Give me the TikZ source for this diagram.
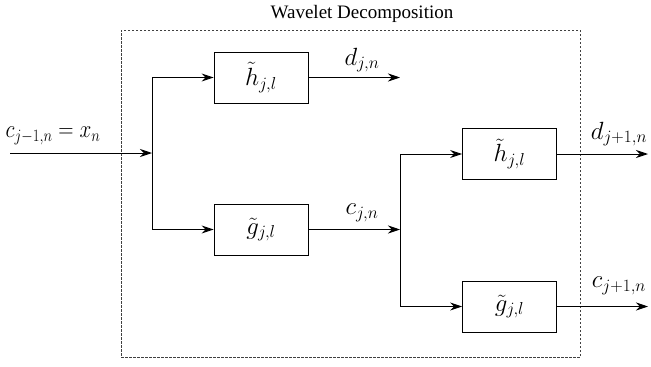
\documentclass[tikz,border=0pt]{standalone}
\usepackage{fontspec}
\setmainfont{Liberation Serif}
\usetikzlibrary{arrows.meta}
\begin{document}
\begin{tikzpicture}[x=1pt,y=-1pt,
  >={Stealth[length=12pt,width=8pt]},
  line width=0.9pt,
  blk/.style={draw, line width=0.8pt, minimum width=94pt, minimum height=51pt, inner sep=0pt, font=\fontsize{25}{30}\selectfont},
  lbl/.style={font=\fontsize{24}{28}\selectfont, inner sep=0pt},
  frame/.style={draw=black!75, dash pattern=on 2.5pt off 1.5pt, line width=0.8pt, minimum width=459pt, minimum height=327pt, inner sep=0pt}]
\useasboundingbox (0,0) rectangle (651,367);
\node[frame] (fr) at (350.5,193.5) {};
\node[font=\fontsize{19}{23}\selectfont, inner sep=0pt] (title) at (362,14) {Wavelet Decomposition};
\node[blk] (h1) at (261,77.5) {$\tilde{h}_{j,l}$};
\node[blk] (g1) at (261,229.5) {$\tilde{g}_{j,l}$};
\node[blk] (h2) at (509.5,154) {$\tilde{h}_{j,l}$};
\node[blk] (g2) at (509.5,306.5) {$\tilde{g}_{j,l}$};
\coordinate (in) at (10,153);
\coordinate (s1) at (152,153);
\coordinate (d1) at (400,77.5);
\coordinate (s2) at (400,229.5);
\coordinate (o1) at (648,154);
\coordinate (o2) at (648,306.5);
\draw[->] (in) -- (s1);
\draw (s1 |- h1.west) -- (s1 |- g1.west);
\draw[->] (s1 |- h1.west) -- (h1.west);
\draw[->] (s1 |- g1.west) -- (g1.west);
\draw[->] (h1.east) -- (d1);
\draw[->] (g1.east) -- (s2);
\draw (s2 |- h2.west) -- (s2 |- g2.west);
\draw[->] (s2 |- h2.west) -- (h2.west);
\draw[->] (s2 |- g2.west) -- (g2.west);
\draw[->] (h2.east) -- (o1);
\draw[->] (g2.east) -- (o2);
\node[lbl, xscale=0.85] (lin) at (53,136) {$c_{j-1,n}=x_n$};
\node[lbl] (ld1) at (362,60) {$d_{j,n}$};
\node[lbl] (lc1) at (362,213) {$c_{j,n}$};
\node[lbl] (ld2) at (619,134) {$d_{j+1,n}$};
\node[lbl] (lc2) at (619,286) {$c_{j+1,n}$};
\end{tikzpicture}
\end{document}
